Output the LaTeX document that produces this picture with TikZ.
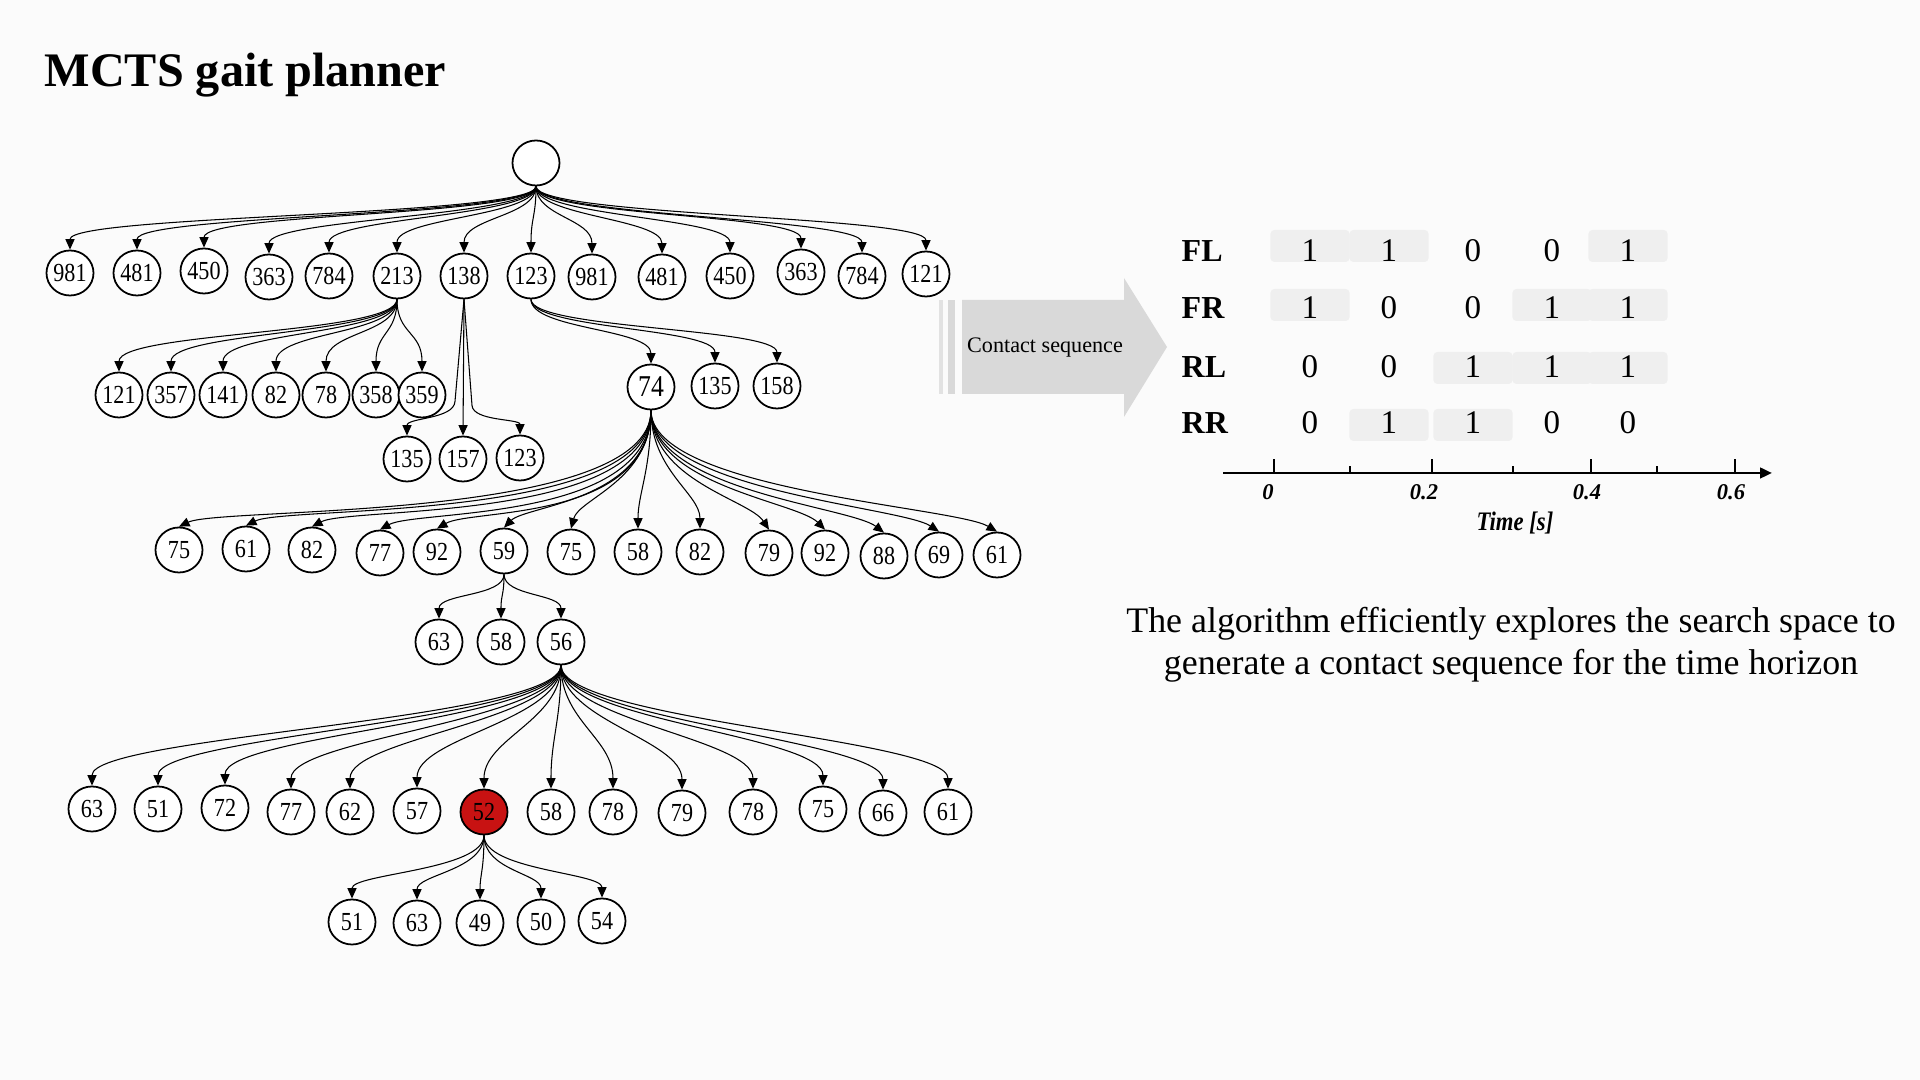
\documentclass[tikz,border=0pt]{standalone}
\usepackage{fontspec}
\setmainfont{Liberation Serif}
\newfontfamily\treefont[FakeStretch=0.85]{Liberation Serif}
\newfontfamily\timefont[FakeStretch=0.85]{Liberation Serif}
\usetikzlibrary{shapes.geometric, arrows.meta}

\definecolor{pagegray}{RGB}{251,251,251}
\definecolor{cellgray}{RGB}{239,239,239}
\definecolor{arrowgray}{RGB}{217,217,217}
\definecolor{bargray}{RGB}{226,226,226}
\definecolor{nodered}{RGB}{200,18,18}

\begin{document}
\begin{tikzpicture}[x=0.01cm, y=-0.01cm,
            tn/.style={ellipse, draw, line width=0.5pt, fill=white, minimum width=0.47cm,
                minimum height=0.45cm, inner sep=0pt, font=\treefont\fontsize{7.4}{8}\selectfont},
            edge/.style={line width=0.3pt, -{Triangle[length=3pt, width=2.6pt]}},
            cell/.style={fill=cellgray, rounded corners=1.1pt, minimum width=0.79cm,
                minimum height=0.32cm, inner sep=0pt},
            bit/.style={inner sep=0pt, font=\fontsize{9.4}{10}\selectfont},
            leg/.style={inner sep=0pt, font=\bfseries\fontsize{9.1}{10}\selectfont},
            tick/.style={inner sep=0pt, font=\bfseries\itshape\fontsize{6.4}{7}\selectfont}]
            \useasboundingbox (0,0) rectangle (1920,1080);
            \fill[pagegray] (0,0) rectangle (1920,1080);
            \node[anchor=base west, inner sep=0pt, font=\bfseries\fontsize{13.7}{16}\selectfont]
                (title) at (44,87) {MCTS gait planner};

            % search tree
            \node[tn] (r) at (536,163) {};
            \foreach \x/\y/\t [count=\i] in {70/273/981, 137/273/481, 204/271/450, 269/277/363,
                    329/276/784, 397/276/213, 464/276/138, 531/276/123, 592/277/981, 662/277/481,
                    730/276/450, 801/272/363, 862/276/784, 926/274/121}
                \node[tn] (a\i) at (\x,\y) {\t};
            \foreach \i in {1,...,14}
                \draw[edge] (r.south) .. controls +(0,30) and +(0,-35) .. (a\i.north);

            \foreach \x/\t [count=\i] in {119/121, 171/357, 223/141, 276/82, 326/78, 376/358, 422/359}
                \node[tn] (b\i) at (\x,395) {\t};
            \foreach \i in {1,...,7}
                \draw[edge] (a6.south) .. controls +(0,35) and +(0,-40) .. (b\i.north);

            \node[tn, font=\treefont\fontsize{8.6}{9}\selectfont] (c1) at (651,387) {74};
            \node[tn] (c2) at (715,386) {135};
            \node[tn] (c3) at (777,386) {158};
            \foreach \i in {1,2,3}
                \draw[edge] (a8.south) .. controls +(0,30) and +(0,-35) .. (c\i.north);

            \node[tn] (d1) at (407,459) {135};
            \node[tn] (d2) at (463,459) {157};
            \node[tn] (d3) at (520,458) {123};
            \draw[edge] (a7.south) -- ++(-9,102) .. controls +(-1,18) and +(0,-18) .. (d1.north);
            \draw[edge] (a7.south) -- (d2.north);
            \draw[edge] (a7.south) -- ++(8,106) .. controls +(1,16) and +(0,-16) .. (d3.north);

            \foreach \x/\y/\t [count=\i] in {179/550/75, 246/549/61, 312/550/82, 380/553/77,
                    437/552/92, 504/551/59, 571/552/75, 638/552/58, 700/552/82, 769/553/79,
                    825/553/92, 884/556/88, 939/555/69, 997/555/61}
                \node[tn] (e\i) at (\x,\y) {\t};
            \foreach \i/\a/\bx/\by in {1/112/42/-20, 2/112/40/-20, 3/112/38/-20, 4/112/36/-20,
                    5/112/34/-20, 6/90/22/-22, 7/70/8/-30, 8/60/0/-35, 9/60/0/-35, 10/70/-20/-30,
                    11/75/-28/-28, 12/80/-34/-26, 13/80/-38/-25, 14/80/-42/-25}
                \draw[edge] (c1.south) .. controls +(0,\a) and +(\bx,\by) .. (e\i.north);

            \node[tn] (f1) at (439,642) {63};
            \node[tn] (f2) at (501,642) {58};
            \node[tn] (f3) at (561,642) {56};
            \foreach \i in {1,2,3}
                \draw[edge] (e6.south) .. controls +(0,22) and +(0,-25) .. (f\i.north);

            \foreach \x/\y/\t [count=\i] in {92/809/63, 158/809/51, 225/808/72, 291/812/77,
                    350/812/62, 417/811/57, 484/812/52, 551/812/58, 613/812/78, 682/813/79,
                    753/812/78, 823/809/75, 883/813/66, 948/812/61} {
                \ifnum\i=7 \def\nf{nodered}\else\def\nf{white}\fi
                \node[tn, fill=\nf] (g\i) at (\x,\y) {\t};
            }
            \foreach \i in {1,...,14}
                \draw[edge] (f3.south) .. controls +(0,55) and +(0,-50) .. (g\i.north);

            \foreach \x/\y/\t [count=\i] in {352/922/51, 417/923/63, 480/923/49, 541/922/50, 602/921/54}
                \node[tn] (h\i) at (\x,\y) {\t};
            \foreach \i in {1,...,5}
                \draw[edge] (g7.south) .. controls +(0,35) and +(0,-25) .. (h\i.north);

            % block arrow
            \fill[bargray] (939,300) rectangle (943,394);
            \fill[arrowgray] (948,300) rectangle (955,394);
            \fill[arrowgray] (962,300) -- (1124,300) -- (1124,278) -- (1167,347)
                -- (1124,417) -- (1124,394) -- (962,394) -- cycle;
            \node[anchor=base, inner sep=0pt, font=\fontsize{6.3}{7}\selectfont]
                (cs) at (1045,353) {Contact sequence};

            % contact table
            \foreach \row/\yb/\yc/\vals in {FL/262/246/{1,1,0,0,1}, FR/319/305/{1,0,0,1,1},
                    RL/378/368/{0,0,1,1,1}, RR/434/425/{0,1,1,0,0}} {
                \node[leg, anchor=base west] (\row) at (1181,\yb) {\row};
                \foreach \v [count=\j] in \vals {
                    \pgfmathsetmacro\cx{{1310,1389,1473,1552,1628}[\j-1]}
                    \ifnum\v=1 \node[cell] (\row-c\j) at (\cx,\yc) {}; \fi
                    \node[bit, anchor=base] (\row-b\j) at (\cx,\yb) {\v};
                }
            }

            % time axis
            \coordinate (t0) at (1223,473);
            \coordinate (t1) at (1772,473);
            \draw[line width=0.75pt, -{Triangle[length=3.4pt, width=3pt]}] (t0) -- (t1);
            \foreach \x/\lx/\l [count=\i] in {1274/1268/0, 1432/1424/0.2, 1591/1587/0.4, 1735/1731/0.6} {
                \draw[line width=0.7pt] (\x,473) -- (\x,459);
                \node[tick, anchor=base] (tk\i) at (\lx,500) {\l};
            }
            \foreach \x in {1350,1513,1657}
                \draw[line width=0.7pt] (\x,473) -- (\x,466);
            \node[anchor=base, inner sep=0pt, font=\timefont\bfseries\itshape\fontsize{7.6}{9}\selectfont]
                (time) at (1515,531) {Time [s]};

            \node[anchor=base, inner sep=0pt, font=\fontsize{10.2}{12}\selectfont]
                (desc1) at (1511,633) {The algorithm efficiently explores the search space to};
            \node[anchor=base, inner sep=0pt, font=\fontsize{10.2}{12}\selectfont]
                (desc2) at (1511,675) {generate a contact sequence for the time horizon};
        \end{tikzpicture}
\end{document}
